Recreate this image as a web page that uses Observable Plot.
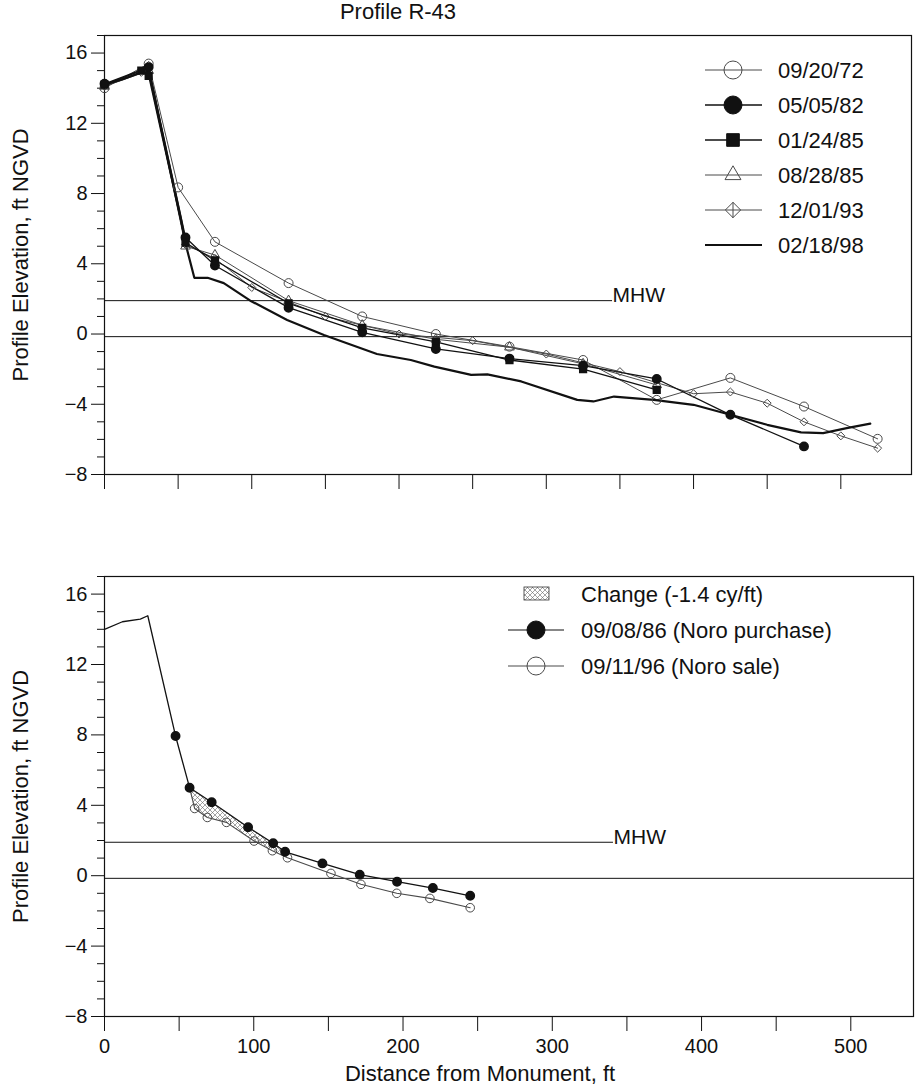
<!DOCTYPE html>
<html>
<head>
<meta charset="utf-8">
<script src="https://cdn.jsdelivr.net/npm/d3@7"></script>
<script src="https://cdn.jsdelivr.net/npm/@observablehq/plot@0.6"></script>
<style>
  html,body{margin:0;padding:0;background:#fff;}
  #chart{position:relative;width:920px;height:1090px;font-family:"Liberation Sans",Arial,sans-serif;color:#111;}
  #chart > *{position:absolute;left:0;}
  #title{top:1px;width:796px;text-align:center;font-size:22px;line-height:22px;}
  #overlay{top:0;pointer-events:none;}
</style>
</head>
<body>
<div id="chart"><div id="title">Profile R-43</div></div>
<script>
// ---------------- data (distance ft, elevation ft NGVD) ----------------
const topNames = ["09/20/72", "05/05/82", "01/24/85", "08/28/85", "12/01/93", "02/18/98"];
const p092072 = [[0,14.0],[30,15.4],[50,8.35],[75,5.25],[125,2.9],[175,1.0],[225,0.0],[275,-0.72],[325,-1.48],[375,-3.75],[425,-2.5],[475,-4.13],[525,-5.97]];
const p050582 = [[0,14.25],[30,15.2],[55,5.5],[75,3.9],[125,1.5],[175,0.1],[225,-0.85],[275,-1.4],[325,-1.8],[375,-2.56],[425,-4.6],[475,-6.4]];
const p012485 = [[0,14.2],[25,15.0],[30,14.7],[55,5.2],[75,4.2],[125,1.75],[175,0.35],[225,-0.45],[275,-1.48],[325,-2.0],[375,-3.18]];
const p082885 = [[0,14.1],[30,15.0],[55,5.0],[75,4.5],[125,1.9],[175,0.5],[225,-0.3],[275,-0.75],[325,-1.7],[375,-2.9]];
const p120193 = [[0,14.1],[25,14.9],[30,15.3],[55,5.1],[75,4.3],[100,2.65],[150,1.0],[200,0.0],[250,-0.38],[300,-1.14],[350,-2.14],[400,-3.4],[425,-3.3],[450,-3.94],[475,-5.0],[500,-5.8],[525,-6.5]];
const p021898 = [[0,14.2],[12,14.5],[25,14.9],[30,15.0],[52,6.5],[55,5.15],[61,3.2],[70,3.2],[81,2.9],[99,1.9],[124,0.8],[149,-0.06],[185,-1.14],[208,-1.48],[224,-1.86],[249,-2.33],[260,-2.3],[283,-2.7],[321,-3.75],[332,-3.84],[346,-3.56],[373,-3.75],[400,-4.03],[425,-4.6],[450,-5.17],[473,-5.6],[488,-5.64],[504,-5.36],[520,-5.1]];

const bottomNames = ["Change (-1.4 cy/ft)", "09/08/86 (Noro purchase)", "09/11/96 (Noro sale)"];
const backshore = [[0,14.0],[12,14.43],[24,14.58],[29,14.77],[47.6,7.94]];
const p090886 = [[47.6,7.94],[57,5.0],[71.8,4.17],[96.2,2.75],[113,1.84],[121,1.36],[146,0.7],[171,0.06],[196,-0.34],[220,-0.7],[245,-1.14]];
const p091196 = [[57,5.0],[60.4,3.82],[68.9,3.31],[81.7,3.03],[100.2,1.97],[112.5,1.42],[122.6,1.02],[151.7,0.13],[171.8,-0.49],[195.8,-1.0],[218,-1.29],[245,-1.82]];
const changeRange = [57, 122.6];

const mhwElevation = 1.9;
const mhwEndTop = 345;
const mhwEndBottom = 341;
const zeroLevel = -0.15;

const yMajorTicks = [-8, -4, 0, 4, 8, 12, 16];
const yMinorTicks = [-7,-6,-5,-3,-2,-1,1,2,3,5,6,7,9,10,11,13,14,15,17];
const xTicks = [0, 50, 100, 150, 200, 250, 300, 350, 400, 450, 500];
const xTickLabels = [0, 100, 200, 300, 400, 500];

const yTitle = "Profile Elevation, ft NGVD";
const xTitle = "Distance from Monument, ft";

// ---------------- helpers ----------------
const FONT = "'Liberation Sans', Arial, sans-serif";
const X = d => d[0], Y = d => d[1];
const INK = "#111", GREY = "#4a4a4a";

function baseMarks(withXLabels, mhwEnd) {
  return [
    Plot.frame({stroke: INK, strokeWidth: 1.2}),
    Plot.axisY(yMinorTicks, {tickSize: 7, tickFormat: () => "", label: null, stroke: INK}),
    Plot.axisY(yMajorTicks, {tickSize: 13, tickPadding: 4, label: null, stroke: INK, fontSize: 20}),
    Plot.axisX(xTicks, {tickSize: 15, tickFormat: () => "", label: null, stroke: INK}),
    withXLabels ? Plot.axisX(xTickLabels, {tickSize: 0, tickPadding: 22, label: null, fontSize: 20}) : null,
    Plot.text([yTitle], {frameAnchor: "left", textAnchor: "middle", lineAnchor: "middle", rotate: -90, dx: -84, fontSize: 22}),
    Plot.ruleY([zeroLevel], {stroke: INK, strokeWidth: 1}),
    Plot.ruleY([mhwElevation], {x1: 0, x2: mhwEnd, stroke: INK, strokeWidth: 1}),
    Plot.text(["MHW"], {x: mhwEnd, y: mhwElevation, textAnchor: "start", dy: -5, fontSize: 21})
  ];
}

// ---------------- top panel ----------------
const topPlot = Plot.plot({
  width: 920, height: 520,
  marginLeft: 104, marginRight: 9, marginTop: 35, marginBottom: 46,
  x: {domain: [0, 548]},
  y: {domain: [-8, 17]},
  style: {fontFamily: FONT, fontSize: "20px", color: INK, background: "transparent", overflow: "visible"},
  marks: [
    ...baseMarks(false, mhwEndTop),
    Plot.line(p092072, {x: X, y: Y, stroke: GREY, strokeWidth: 1}),
    Plot.line(p082885, {x: X, y: Y, stroke: GREY, strokeWidth: 1}),
    Plot.line(p120193, {x: X, y: Y, stroke: GREY, strokeWidth: 1}),
    Plot.line(p050582, {x: X, y: Y, stroke: INK, strokeWidth: 1.3}),
    Plot.line(p012485, {x: X, y: Y, stroke: INK, strokeWidth: 1.3}),
    Plot.line(p021898, {x: X, y: Y, stroke: INK, strokeWidth: 2.2}),
    Plot.dot(p092072, {x: X, y: Y, r: 4.5, stroke: GREY, fill: "none", strokeWidth: 1}),
    Plot.dot(p082885, {x: X, y: Y, r: 3.6, symbol: "triangle", stroke: GREY, fill: "none", strokeWidth: 1}),
    Plot.dot(p120193, {x: X, y: Y, r: 3.6, symbol: "diamond2", stroke: GREY, fill: "none", strokeWidth: 1}),
    Plot.dot(p050582, {x: X, y: Y, r: 4.2, fill: INK, stroke: INK}),
    Plot.dot(p012485, {x: X, y: Y, r: 3.8, symbol: "square", fill: INK, stroke: INK})
  ]
});
topPlot.style.top = "0px";

// ---------------- bottom panel ----------------
const interp86 = d3.scaleLinear().domain(p090886.map(X)).range(p090886.map(Y));
const changeArea = p091196.filter(d => d[0] >= changeRange[0] && d[0] <= changeRange[1])
  .map(d => ({x: d[0], low: d[1], high: interp86(d[0])}));

const bottomPlot = Plot.plot({
  width: 920, height: 570,
  marginLeft: 104, marginRight: 7, marginTop: 56, marginBottom: 74,
  x: {domain: [0, 542]},
  y: {domain: [-8, 17]},
  style: {fontFamily: FONT, fontSize: "20px", color: INK, background: "transparent", overflow: "visible"},
  marks: [
    Plot.areaY(changeArea, {x: "x", y1: "low", y2: "high", fill: "url(#xhatch)"}),
    ...baseMarks(true, mhwEndBottom),
    Plot.text([xTitle], {frameAnchor: "bottom", lineAnchor: "middle", textAnchor: "middle", dy: 57, dx: -29, fontSize: 22}),
    Plot.line(backshore, {x: X, y: Y, stroke: INK, strokeWidth: 1.3}),
    Plot.line(p091196, {x: X, y: Y, stroke: GREY, strokeWidth: 1.1}),
    Plot.line(p090886, {x: X, y: Y, stroke: INK, strokeWidth: 1.3}),
    Plot.dot(p091196.slice(1), {x: X, y: Y, r: 4.3, stroke: GREY, fill: "none", strokeWidth: 1}),
    Plot.dot(p090886, {x: X, y: Y, r: 4.2, fill: INK, stroke: INK})
  ]
});
bottomPlot.style.top = "520px";

const chart = document.getElementById("chart");
chart.appendChild(topPlot);
chart.appendChild(bottomPlot);

// hatch pattern
const defs = d3.select(bottomPlot).insert("defs", ":first-child");
const pat = defs.append("pattern").attr("id", "xhatch").attr("patternUnits", "userSpaceOnUse")
  .attr("width", 5).attr("height", 5);
pat.append("path").attr("d", "M0,0L5,5M5,0L0,5").attr("stroke", "#666").attr("stroke-width", 0.6);

// ---------------- legends ----------------
const ov = d3.select(chart).append("svg").attr("id", "overlay")
  .attr("width", 920).attr("height", 1090)
  .style("font-family", FONT).style("font-size", "22px");

const topStyles = [
  {sym: d3.symbolCircle, size: Math.PI * 81, fill: "none", stroke: GREY, lw: 1},
  {sym: d3.symbolCircle, size: Math.PI * 81, fill: INK, stroke: INK, lw: 1.3},
  {sym: d3.symbolSquare, size: 160, fill: INK, stroke: INK, lw: 1.3},
  {sym: d3.symbolTriangle, size: 110, fill: "none", stroke: GREY, lw: 1},
  {sym: d3.symbolDiamond2, size: 150, fill: "none", stroke: GREY, lw: 1},
  {sym: null, lw: 2.2, stroke: INK}
];
const topLeg = ov.append("g");
topNames.forEach((name, i) => {
  const y = 70 + i * 35, s = topStyles[i];
  topLeg.append("line").attr("x1", 705).attr("x2", 762).attr("y1", y).attr("y2", y)
    .attr("stroke", s.stroke).attr("stroke-width", s.lw);
  if (s.sym) {
    topLeg.append("path").attr("d", d3.symbol(s.sym, s.size)())
      .attr("transform", `translate(733,${y})`)
      .attr("fill", s.fill).attr("stroke", s.stroke).attr("stroke-width", 1);
  }
  if (i === 4) topLeg.append("line").attr("x1", 733).attr("x2", 733).attr("y1", y - 8).attr("y2", y + 8).attr("stroke", GREY);
  topLeg.append("text").attr("x", 778).attr("y", y).attr("dy", "0.35em").attr("fill", INK).text(name);
});

const botLeg = ov.append("g");
bottomNames.forEach((name, i) => {
  const y = 594 + i * 36;
  if (i === 0) {
    botLeg.append("rect").attr("x", 524).attr("y", y - 7).attr("width", 25).attr("height", 13)
      .attr("fill", "url(#xhatch)").attr("stroke", "#333").attr("stroke-width", 0.8);
  } else {
    botLeg.append("line").attr("x1", 508).attr("x2", 564).attr("y1", y).attr("y2", y)
      .attr("stroke", i === 1 ? INK : GREY).attr("stroke-width", 1.2);
    botLeg.append("path").attr("d", d3.symbol(d3.symbolCircle, Math.PI * 81)())
      .attr("transform", `translate(536,${y})`)
      .attr("fill", i === 1 ? INK : "none").attr("stroke", i === 1 ? INK : GREY).attr("stroke-width", 1);
  }
  botLeg.append("text").attr("x", 581).attr("y", y).attr("dy", "0.35em").attr("fill", INK).text(name);
});
</script>
</body>
</html>
